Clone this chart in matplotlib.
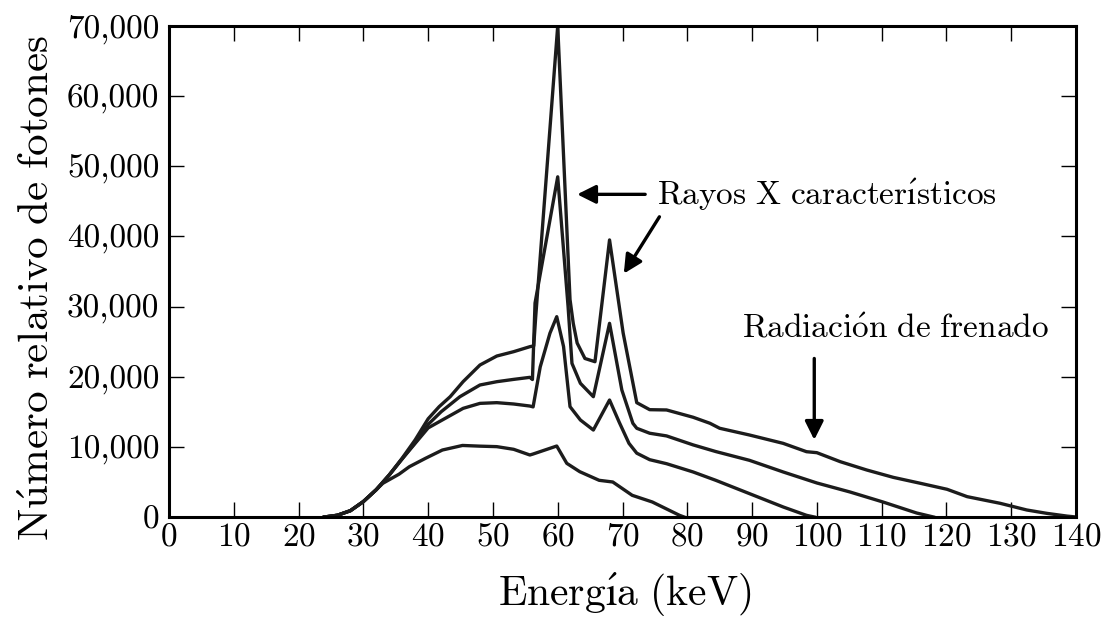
import matplotlib
matplotlib.use("Agg")
import matplotlib.pyplot as plt
from matplotlib.ticker import FuncFormatter

plt.rcParams['font.family'] = 'serif'
plt.rcParams['font.serif'] = ['cmr10']
plt.rcParams['mathtext.fontset'] = 'cm'
plt.rcParams['axes.formatter.use_mathtext'] = True

# spectra (keV, relative photon count)
e_80 = [24, 26, 28, 30, 32, 33, 35.5, 37.1, 39.6, 42.2, 45.3, 48, 50.6, 53.2, 55.7, 56.2,
        59.85, 61.4, 63.4, 66.4, 68.5, 71.5, 74.6, 78.8, 79.5]
n_80 = [0, 250, 900, 2200, 3900, 4800, 6100, 7170, 8370, 9550, 10200, 10100, 10030, 9650, 8840, 8980,
        10120, 7650, 6460, 5230, 4990, 3090, 2140, 240, 0]

e_100 = [24, 26, 28, 30, 32, 34, 36, 38, 40, 42.9, 45.4, 48, 50.6, 53.2, 55.7, 56.2,
         57.3, 58.8, 59.85, 60.9, 61.9, 63.5, 65.5, 68, 69.5, 71, 72.2, 74.2, 76.8,
         80.9, 84.4, 89.6, 94.8, 98.4, 99.6]
n_100 = [0, 250, 900, 2200, 3900, 6000, 8300, 10500, 12700, 14200, 15490, 16200, 16300, 16110, 15820, 15700,
         21400, 26200, 28560, 24300, 15730, 13830, 12400, 16680, 13500, 10500, 9100, 8170, 7600,
         6420, 5230, 3330, 1430, 240, 0]

e_120 = [24, 26, 28, 30, 32, 34, 36, 38, 40, 42, 44.9, 48, 50.6, 53.2, 55.7, 56.1, 56.5,
         60, 61.6, 62.2, 63.5, 65.5, 68, 69.9, 71.6, 72.2, 74.2, 76.8, 80.9, 84.4, 89.6,
         94.8, 100, 105.1, 110.2, 115.4, 118]
n_120 = [0, 250, 900, 2200, 3900, 6000, 8300, 10600, 13200, 15000, 17150, 18820, 19290, 19620, 19910, 19600, 30500,
         48500, 30000, 21900, 19060, 17150, 27610, 18100, 13360, 12650, 11940, 11560, 10280, 9330, 8080,
         6420, 4850, 3570, 2140, 570, 0]

e_140 = [24, 26, 28, 30, 32, 34, 36, 38, 40, 41.7, 43.4, 45.4, 48, 50.6, 53.2, 55.7, 56.3, 56.6,
         60, 61.9, 62.4, 63, 64.2, 65.75, 68, 70.1, 72.2, 74.2, 76.8, 80.9, 83.5, 85, 89.6,
         94.8, 98.4, 100, 103.6, 107.7, 111.8, 116, 120.1, 123.2, 128.3, 132.4, 135.5, 138.6, 140]
n_140 = [0, 250, 900, 2200, 3900, 6000, 8400, 11000, 14000, 15730, 17150, 19300, 21670, 22950, 23570, 24280, 24400, 28500,
         70000, 31000, 27600, 24800, 22600, 22140, 39500, 26230, 16300, 15300, 15260, 14220, 13360, 12650, 11690,
         10500, 9310, 9170, 7890, 6700, 5650, 4800, 3950, 2900, 1950, 1000, 520, 130, 0]

x_ticks = list(range(0, 141, 10))
y_ticks = list(range(0, 70001, 10000))

fig = plt.figure(figsize=(11.03, 6.20), dpi=100)
ax = fig.add_axes([169 / 1103, 1 - 517 / 620, 907 / 1103, 491 / 620])

line_color = '#1c1c1c'
for e, n in [(e_80, n_80), (e_100, n_100), (e_120, n_120), (e_140, n_140)]:
    ax.plot(e, n, color=line_color, lw=2.4, solid_joinstyle='round')

ax.set_xlim(0, 140)
ax.set_ylim(0, 70000)
ax.set_xticks(x_ticks)
ax.set_yticks(y_ticks)
ax.yaxis.set_major_formatter(FuncFormatter(lambda v, p: f'{v:,.0f}'))
ax.tick_params(direction='in', length=11, width=1.0, top=True, right=True,
               labelsize=24)
ax.tick_params(axis='y', pad=7)
ax.tick_params(axis='x', pad=4)
for s in ax.spines.values():
    s.set_linewidth(2.2)

ax.set_xlabel(r'$\mathrm{Energ\acute{ı}a\ (keV)}$', fontsize=30)
ax.set_ylabel(r'$\mathrm{N\acute{u}mero\ relativo\ de\ fotones}$', fontsize=31)
ax.xaxis.set_label_coords(0.503, -0.110)
ax.yaxis.set_label_coords(-0.123, 0.467)

arrow = dict(arrowstyle='-|>', lw=2.4, color='black', mutation_scale=28,
             shrinkA=0, shrinkB=0)
ax.annotate('', xy=(63.0, 46000), xytext=(73.5, 46000), arrowprops=arrow)
ax.annotate('', xy=(70.2, 34700), xytext=(75.7, 42800), arrowprops=arrow)
ax.annotate('', xy=(99.6, 11000), xytext=(99.6, 22600), arrowprops=arrow)

ax.text(75.3, 44480, r'$\mathrm{Rayos\ X\ caracter\acute{ı}sticos}$', fontsize=24,
        ha='left', va='baseline')
ax.text(88.4, 25560, r'$\mathrm{Radiaci\acute{o}n\ de\ frenado}$', fontsize=24,
        ha='left', va='baseline')

fig.savefig('out.png', dpi=100)
